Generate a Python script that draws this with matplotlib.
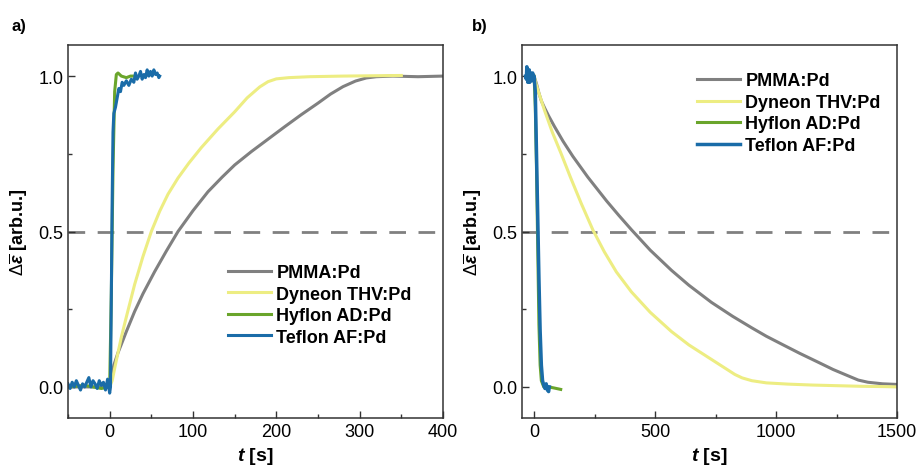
import numpy as np
import matplotlib
matplotlib.use("Agg")
import matplotlib.pyplot as plt
from matplotlib.ticker import MultipleLocator

plt.rcParams['font.family'] = ['Liberation Sans', 'DejaVu Sans']
plt.rcParams['mathtext.fontset'] = 'custom'
plt.rcParams['mathtext.rm'] = 'Liberation Sans'
plt.rcParams['mathtext.it'] = 'Liberation Sans:italic:bold'
plt.rcParams['mathtext.bf'] = 'Liberation Sans:bold'

labels = ['PMMA:Pd', 'Dyneon THV:Pd', 'Hyflon AD:Pd', 'Teflon AF:Pd']
colors = ['#808080', '#eded82', '#6aa52b', '#1a6ca8']

# ---- a) response (rise)
pmma_a_t = [-50, 0, 2, 5, 10, 14, 20, 30, 40, 54, 68, 82, 100, 118, 135, 150, 170, 190, 210, 230, 250, 265, 280, 295, 308, 320, 340, 370, 400]
pmma_a_y = [0, 0, 0.03, 0.07, 0.11, 0.137, 0.178, 0.243, 0.3, 0.371, 0.437, 0.5, 0.567, 0.628, 0.675, 0.714, 0.757, 0.797, 0.837, 0.876, 0.913, 0.942, 0.966, 0.984, 0.994, 0.998, 1.0, 0.998, 1.0]

thv_a_t = [0, 3, 6, 10, 14, 20, 30, 40, 50, 60, 70, 82, 95, 110, 130, 150, 165, 180, 190, 200, 215, 240, 280, 350]
thv_a_y = [0, 0.02, 0.06, 0.11, 0.16, 0.225, 0.33, 0.42, 0.5, 0.565, 0.62, 0.672, 0.72, 0.77, 0.83, 0.885, 0.93, 0.965, 0.982, 0.991, 0.995, 0.998, 1.0, 1.002]

hyf_a_t = [-50, -30, -10, 0, 2, 4, 6, 8, 10, 14, 20, 25, 30]
hyf_a_y = [0, 0.005, -0.005, 0, 0.3, 0.7, 0.95, 1.005, 1.01, 1.0, 0.995, 1.0, 1.0]

tef_a_t = [-50, -47.5, -45, -42.5, -40, -37.5, -35, -32.5, -30, -27.5, -25, -22.5, -20, -17.5, -15, -12.5,
           -10, -7.5, -5, -2.5, 0, 1, 2, 3, 4, 5, 7, 9, 11, 13, 15, 17, 20, 23, 26, 29, 31, 33, 35, 37,
           39, 41, 43, 45, 47, 49, 51, 53, 55, 57, 59, 60]
tef_a_y = [0.01, -0.005, 0.015, 0.0, 0.02, 0.005, -0.01, 0.01, 0.0, 0.015, 0.03, 0.0, 0.02, 0.01, -0.005,
           0.02, 0.005, 0.015, -0.01, 0.025, -0.02, 0.0, 0.3, 0.6, 0.82, 0.88, 0.9, 0.93, 0.96, 0.95, 0.98,
           0.97, 0.985, 0.97, 0.99, 0.98, 1.01, 0.99, 1.0, 1.015, 0.99, 1.005, 0.995, 1.02, 1.0, 1.015, 1.0,
           1.02, 1.005, 1.01, 0.995, 1.0]

# ---- b) recovery (decay)
pmma_b_t = [0, 10, 20, 30, 45, 60, 84, 120, 160, 222, 300, 350, 402, 480, 568, 640, 733, 821, 900, 960,
            1030, 1098, 1170, 1236, 1300, 1340, 1380, 1440, 1500]
pmma_b_y = [1.0, 0.975, 0.945, 0.92, 0.895, 0.872, 0.838, 0.79, 0.742, 0.675, 0.598, 0.552, 0.506, 0.44,
            0.375, 0.327, 0.272, 0.227, 0.19, 0.163, 0.135, 0.108, 0.081, 0.056, 0.035, 0.022, 0.015, 0.01, 0.008]

thv_b_t = [0, 8, 20, 43, 75, 112, 150, 195, 243, 290, 340, 402, 480, 568, 640, 700, 760, 800, 830, 860,
           900, 960, 1050, 1150, 1250, 1350, 1450, 1500]
thv_b_y = [1.0, 0.975, 0.945, 0.89, 0.82, 0.75, 0.675, 0.59, 0.505, 0.435, 0.37, 0.306, 0.24, 0.178,
           0.135, 0.105, 0.075, 0.055, 0.04, 0.029, 0.02, 0.013, 0.009, 0.006, 0.004, 0.002, 0.001, 0.0]

hyf_b_t = [-30, -10, 0, 5, 10, 15, 20, 25, 30, 40, 60, 80, 110]
hyf_b_y = [1.0, 1.0, 1.0, 0.9, 0.7, 0.45, 0.2, 0.07, 0.02, 0.0, 0.0, -0.003, -0.008]

tef_b_t = [-35, -32, -30, -28, -26, -24, -22, -20, -18, -16, -14, -12, -10, -8, -6, -4, -2, 0, 5, 10,
           15, 20, 25, 30, 35, 40, 45, 50, 55, 60, 63]
tef_b_y = [1.0, 0.99, 1.03, 1.0, 0.98, 1.01, 0.99, 1.02, 0.98, 1.0, 1.01, 0.99, 1.0, 0.985, 1.01, 0.99,
           1.0, 1.0, 0.95, 0.75, 0.55, 0.35, 0.18, 0.07, 0.02, 0.005, -0.005, 0.01, -0.01, -0.015, 0.0]

fig = plt.figure(figsize=(9.18, 4.77), dpi=100)
ax1 = fig.add_axes([68/918, 58/477, 375/918, 373/477])
ax2 = fig.add_axes([522/918, 58/477, 375/918, 373/477])

def style(ax, xlim, xmaj, xmin):
    ax.set_xlim(*xlim)
    ax.set_ylim(-0.1, 1.1)
    ax.xaxis.set_major_locator(MultipleLocator(xmaj))
    ax.xaxis.set_minor_locator(MultipleLocator(xmin))
    ax.yaxis.set_major_locator(MultipleLocator(0.5))
    ax.yaxis.set_minor_locator(MultipleLocator(0.25))
    ax.tick_params(which='both', direction='in', top=False, right=False, labelsize=13, color='#333333')
    ax.tick_params(which='major', length=5, width=1)
    ax.tick_params(which='minor', length=3, width=1)
    for s in ax.spines.values():
        s.set_color('#333333')
        s.set_linewidth(1.1)
    ax.axhline(0.5, color='#808080', lw=2.0, ls=(0, (6, 4.5)), zorder=1)
    ax.set_xlabel(r'$t$ [s]', fontsize=14, fontweight='bold')
    ax.set_ylabel(r'$\Delta\overline{\varepsilon}$ [arb.u.]', fontsize=13, fontweight='bold', labelpad=6)

style(ax1, (-50, 400), 100, 50)
ax1.plot(pmma_a_t, pmma_a_y, color=colors[0], lw=2.2, label=labels[0])
ax1.plot(thv_a_t, thv_a_y, color=colors[1], lw=2.2, label=labels[1])
ax1.plot(hyf_a_t, hyf_a_y, color=colors[2], lw=2.2, label=labels[2])
ax1.plot(tef_a_t, tef_a_y, color=colors[3], lw=2.2, label=labels[3])
ax1.legend(loc='lower right', bbox_to_anchor=(0.96, 0.15), frameon=False,
           prop={'weight': 'bold', 'size': 13}, handlelength=2.4, handletextpad=0.3,
           labelspacing=0.25)

style(ax2, (-50, 1500), 500, 250)
ax2.plot(pmma_b_t, pmma_b_y, color=colors[0], lw=2.2, label=labels[0])
ax2.plot(thv_b_t, thv_b_y, color=colors[1], lw=2.2, label=labels[1])
ax2.plot(hyf_b_t, hyf_b_y, color=colors[2], lw=2.2, label=labels[2])
ax2.plot(tef_b_t, tef_b_y, color=colors[3], lw=2.5, label=labels[3])
ax2.legend(loc='upper right', bbox_to_anchor=(1.0, 0.97), frameon=False,
           prop={'weight': 'bold', 'size': 13}, handlelength=2.4, handletextpad=0.3,
           labelspacing=0.25)

fig.text(12/918, 1 - 26/477, 'a)', fontsize=12, fontweight='bold', va='center')
fig.text(472/918, 1 - 26/477, 'b)', fontsize=12, fontweight='bold', va='center')

fig.savefig('out.png', dpi=100)
